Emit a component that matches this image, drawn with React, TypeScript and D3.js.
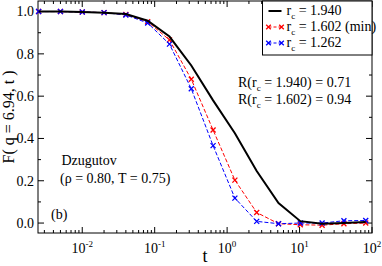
import React, { useEffect, useRef } from 'react';
import * as d3 from 'd3';

// times: t = 0.0025 * 2^k
const times = [0.0025, 0.005, 0.01, 0.02, 0.04, 0.08, 0.16, 0.32, 0.64, 1.28, 2.56, 5.12, 10.24, 20.48, 40.96, 81.92];
const black = [1.0, 1.0, 0.998, 0.995, 0.988, 0.957, 0.882, 0.745, 0.58, 0.425, 0.246, 0.095, 0.009, -0.003, 0.0, 0.005];
const red = [1.0, 1.0, 0.998, 0.995, 0.986, 0.952, 0.866, 0.68, 0.44, 0.203, 0.05, -0.003, -0.008, -0.01, -0.003, 0.0];
const blue = [1.0, 1.0, 0.998, 0.995, 0.984, 0.946, 0.846, 0.635, 0.366, 0.118, 0.008, -0.003, 0.0, 0.0, 0.011, 0.012];
const yTicks = [0, 0.2, 0.4, 0.6, 0.8, 1.0];
const xDecades = [-2, -1, 0, 1, 2];

const App = () => {
  const svgRef = useRef<SVGSVGElement>(null);

  useEffect(() => {
    const svg = d3.select(svgRef.current);
    svg.selectAll('*').remove();
    const W = 382, H = 266;
    const margin = { top: 1, right: 10, bottom: 33, left: 38 };
    const iw = W - margin.left - margin.right;
    const ih = H - margin.top - margin.bottom;

    const x = d3.scaleLog().domain([0.00245, 100]).range([0, iw]);
    const y = d3.scaleLinear().domain([-0.047, 1.05]).range([ih, 0]);

    const g = svg.append('g').attr('transform', `translate(${margin.left},${margin.top})`);

    // frame
    g.append('rect').attr('width', iw).attr('height', ih)
      .attr('fill', 'none').attr('stroke', '#000').attr('stroke-width', 1);

    // x ticks (inside, top and bottom)
    const minor: number[] = [];
    for (let d = -3; d <= 1; d++) {
      for (let m = 2; m <= 9; m++) {
        const v = m * Math.pow(10, d);
        if (v > 0.00245 && v < 100) minor.push(v);
      }
    }
    const tk = g.append('g').attr('stroke', '#000').attr('stroke-width', 1);
    minor.forEach(v => {
      const px = x(v);
      tk.append('line').attr('x1', px).attr('x2', px).attr('y1', ih).attr('y2', ih - 3);
      tk.append('line').attr('x1', px).attr('x2', px).attr('y1', 0).attr('y2', 3);
    });
    xDecades.forEach(d => {
      const px = x(Math.pow(10, d));
      tk.append('line').attr('x1', px).attr('x2', px).attr('y1', ih).attr('y2', ih - 6);
      tk.append('line').attr('x1', px).attr('x2', px).attr('y1', 0).attr('y2', 6);
      const t = g.append('text').attr('x', px).attr('y', ih + 20)
        .attr('text-anchor', 'middle').attr('font-size', 14);
      t.append('tspan').text('10');
      t.append('tspan').attr('dy', -6).attr('font-size', 9).text(String(d));
    });

    // y ticks
    d3.range(0, 11).forEach(i => {
      const v = i / 10;
      const py = y(v);
      const len = i % 2 === 0 ? 6 : 3;
      tk.append('line').attr('x1', 0).attr('x2', len).attr('y1', py).attr('y2', py);
      tk.append('line').attr('x1', iw).attr('x2', iw - len).attr('y1', py).attr('y2', py);
    });
    yTicks.forEach(v => {
      g.append('text').attr('x', -4).attr('y', y(v)).attr('dy', '0.35em')
        .attr('text-anchor', 'end').attr('font-size', 14)
        .text(v.toFixed(1));
    });

    // axis labels
    g.append('text').attr('x', x(1) - 22).attr('y', ih + 29)
      .attr('text-anchor', 'middle').attr('font-size', 18).text('t');
    svg.append('text').attr('transform', `translate(14,${margin.top + ih / 2}) rotate(-90)`)
      .attr('text-anchor', 'middle').attr('font-size', 16)
      .text('F( q = 6.94, t )');

    // series
    const line = d3.line<[number, number]>().x(d => x(d[0])).y(d => y(d[1]));
    const pts = (vals: number[]) => times.map((t, i) => [t, vals[i]] as [number, number]);
    const drawSeries = (vals: number[], color: string, dashed: boolean, markers: boolean, width: number) => {
      g.append('path').datum(pts(vals)).attr('d', line).attr('fill', 'none')
        .attr('stroke', color).attr('stroke-width', width)
        .attr('stroke-dasharray', dashed ? '4,2' : null);
      if (markers) {
        pts(vals).forEach(([t, v]) => {
          const px = x(t), py = y(v), s = 2.5;
          g.append('path').attr('d', `M${px - s},${py - s}L${px + s},${py + s}M${px - s},${py + s}L${px + s},${py - s}`)
            .attr('stroke', color).attr('stroke-width', 1.3);
        });
      }
    };
    drawSeries(red, '#ff0000', true, true, 1);
    drawSeries(blue, '#0000ff', true, true, 1);
    drawSeries(black, '#000000', false, false, 2);

    // legend
    const lx = 262.5 - margin.left;
    const lg = g.append('g');
    lg.append('rect').attr('x', lx).attr('y', 0).attr('width', iw - lx).attr('height', 54)
      .attr('fill', '#fff').attr('stroke', '#000').attr('stroke-width', 1);
    const entries = [
      { color: '#000000', label: '1.940', dashed: false, marker: false },
      { color: '#ff0000', label: '1.602 (min)', dashed: true, marker: true },
      { color: '#0000ff', label: '1.262', dashed: true, marker: true },
    ];
    entries.forEach((e, i) => {
      const ly = 10 + i * 16;
      const x1 = lx + 6, x2 = lx + 19;
      lg.append('line').attr('x1', x1).attr('x2', x2).attr('y1', ly).attr('y2', ly)
        .attr('stroke', e.color).attr('stroke-width', e.marker ? 1 : 2)
        .attr('stroke-dasharray', e.dashed ? '3,2' : null);
      if (e.marker) {
        [x1, x2].forEach(px => {
          const s = 2.3;
          lg.append('path').attr('d', `M${px - s},${ly - s}L${px + s},${ly + s}M${px - s},${ly + s}L${px + s},${ly - s}`)
            .attr('stroke', e.color).attr('stroke-width', 1.3);
        });
      }
      const t = lg.append('text').attr('x', lx + 24).attr('y', ly + 4).attr('font-size', 14);
      t.append('tspan').text('r');
      t.append('tspan').attr('dy', 4).attr('font-size', 9).text('c');
      t.append('tspan').attr('dy', -4).text(` = ${e.label}`);
    });

    // annotations
    const rText = (yy: number, rc: string, val: string) => {
      const t = g.append('text').attr('x', 238 - margin.left).attr('y', yy).attr('font-size', 14);
      t.append('tspan').text('R(r');
      t.append('tspan').attr('dy', 4).attr('font-size', 9).text('c');
      t.append('tspan').attr('dy', -4).text(` = ${rc}) = ${val}`);
    };
    rText(87 - margin.top, '1.940', '0.71');
    rText(104 - margin.top, '1.602', '0.94');

    const txt = (xx: number, yy: number, s: string) =>
      svg.append('text').attr('x', xx).attr('y', yy).attr('font-size', 14).text(s);
    txt(61.5, 165, 'Dzugutov');
    txt(60, 183, '(ρ = 0.80, T = 0.75)');
    txt(51, 219, '(b)');
  }, []);

  return (
    <svg ref={svgRef} width={382} height={266}
      style={{ position: 'absolute', left: 0, top: 0, background: '#fff', fontFamily: 'Liberation Serif' }} />
  );
};

export default App;
